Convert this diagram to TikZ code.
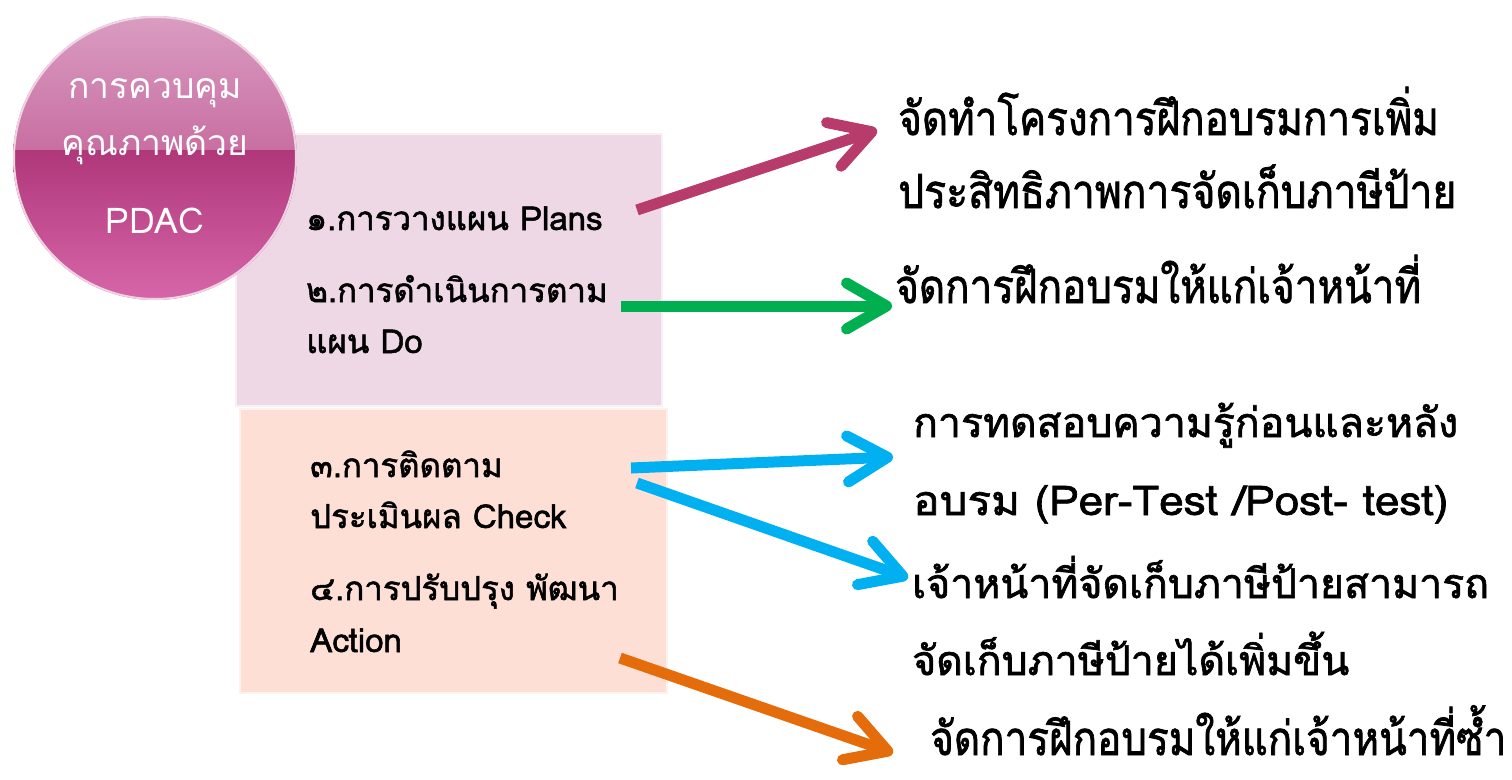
\documentclass[tikz,border=0pt]{standalone}
\usepackage{fontspec}
\usetikzlibrary{arrows.meta}
\newfontfamily\thaifont[Script=Thai]{Loma}
\newfontfamily\thaiboldish[Script=Thai,FakeBold=1.6]{Loma}
\definecolor{arMag}{HTML}{B83C6B}
\definecolor{arGreen}{HTML}{00B050}
\definecolor{arBlue}{HTML}{00B0F0}
\definecolor{arOrange}{HTML}{E46C0A}
\definecolor{boxPink}{HTML}{EFD8E6}
\definecolor{boxPeach}{HTML}{FDDFD5}
\definecolor{cirTopA}{HTML}{DA9DC2}
\definecolor{cirTopB}{HTML}{C86FA2}
\definecolor{cirBotA}{HTML}{AF377A}
\definecolor{cirBotB}{HTML}{D767AA}
\tikzset{
  arrowline/.style={line width=11pt, -{Straight Barb[length=40pt,width=46pt,round]}},
  boxtext/.style={anchor=base west, inner sep=0pt, font=\thaiboldish\fontsize{33}{33}\selectfont, text=black},
  righttext/.style={anchor=base west, inner sep=0pt, font=\thaiboldish\fontsize{41}{41}\selectfont, text=black},
  righttall/.style={anchor=base west, inner sep=0pt, font=\thaiboldish\fontsize{47}{47}\selectfont, text=black},
  circtext/.style={anchor=base, inner sep=0pt, font=\thaifont\fontsize{35.5}{35.5}\selectfont, text=white},
}
\begin{document}
\begin{tikzpicture}[x=1pt,y=-1pt]
\useasboundingbox (0,0) rectangle (1512,779);
% boxes
\fill[boxPink] (236,134) rectangle (662,406);
\fill[boxPeach] (240,409) rectangle (667,693);
\draw[white!60!boxPink, line width=1.5pt] (236,134) rectangle (662,406);
\draw[white!60!boxPeach, line width=1.5pt] (240,409) rectangle (667,693);
% circle
\begin{scope}
  \clip (155,158) circle (142);
  \shade[top color=cirTopA, bottom color=cirTopB] (10,14) rectangle (300,150);
  \shade[top color=cirBotA, bottom color=cirBotB] (10,150) rectangle (300,302);
\end{scope}
\draw[white!70!cirTopB, line width=2pt] (155,158) circle (141);
\node[circtext] (c1) at (155,98) {การควบคุม};
\node[circtext] (c2) at (155,155) {คุณภาพด้วย};
\node[circtext] (c3) at (155,233) {PDAC};
% box texts
\node[boxtext] (p1) at (306,230) {๑.การวางแผน Plans};
\node[boxtext] (p2) at (306,302) {๒.การดำเนินการตาม};
\node[boxtext] (p2b) at (306,353) {แผน Do};
\node[boxtext] (p3) at (310,477) {๓.การติดตาม};
\node[boxtext] (p3b) at (310,528) {ประเมินผล Check};
\node[boxtext] (p4) at (310,600) {๔.การปรับปรุง พัฒนา};
\node[boxtext] (p4b) at (310,652) {Action};
% right texts
\node[righttall] (r1) at (898,135) {\scalebox{0.86}[1]{จัดทำโครงการฝึกอบรมการเพิ่ม}};
\node[righttall] (r1b) at (898,208) {\scalebox{0.87}[1]{ประสิทธิภาพการจัดเก็บภาษีป้าย}};
\node[righttall] (r2) at (895,303) {\scalebox{0.86}[1]{จัดการฝึกอบรมให้แก่เจ้าหน้าที่}};
\node[righttext] (r3) at (913,437) {การทดสอบความรู้ก่อนและหลัง};
\node[righttext] (r3b) at (913,515) {\resizebox{535pt}{\height}{อบรม (Per-Test /Post- test)}};
\node[righttext] (r4) at (912,598) {เจ้าหน้าที่จัดเก็บภาษีป้ายสามารถ};
\node[righttext] (r4b) at (912,675) {จัดเก็บภาษีป้ายได้เพิ่มขึ้น};
\node[righttall] (r5) at (930,755) {\scalebox{0.86}[1]{จัดการฝึกอบรมให้แก่เจ้าหน้าที่ซ้ำ}};
% arrow ends
\coordinate (s1) at (637,210);
\coordinate (t1) at (877,130);
\coordinate (s2) at (621,306);
\coordinate (t2) at (892,306);
\coordinate (s3) at (631,468);
\coordinate (t3) at (893,457);
\coordinate (s4) at (637,483);
\coordinate (t4) at (908,578);
\coordinate (s5) at (620,658);
\coordinate (t5) at (893,753);
\draw[arrowline, arMag] (s1) -- (t1);
\draw[arrowline, arGreen] (s2) -- (t2);
\draw[arrowline, arBlue] (s3) -- (t3);
\draw[arrowline, arBlue] (s4) -- (t4);
\draw[arrowline, arOrange] (s5) -- (t5);
\end{tikzpicture}
\end{document}
